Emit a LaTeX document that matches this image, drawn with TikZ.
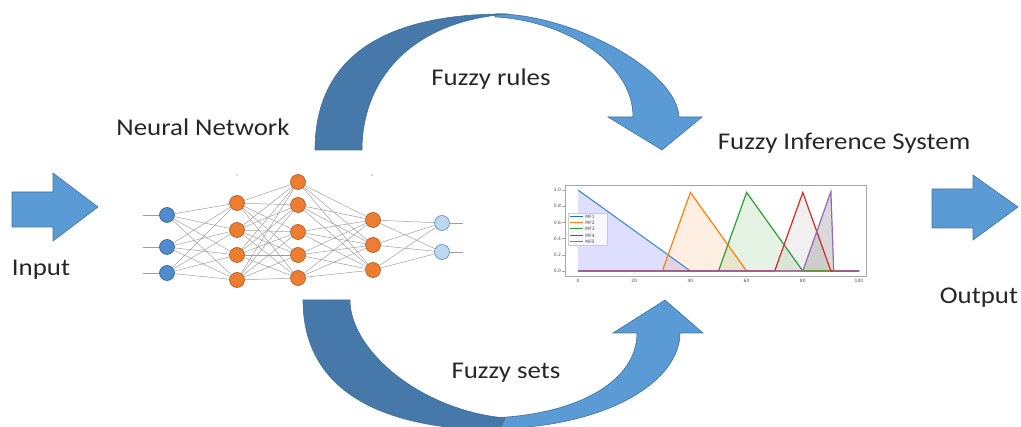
\documentclass[tikz,border=0pt]{standalone}
\usepackage{fontspec}
\setmainfont{Carlito}[FakeStretch=1.12]
\newfontfamily\plotfont{DejaVu Sans}
\usepackage{xcolor}

\definecolor{arcdark}{RGB}{70,120,170}
\definecolor{arclight}{RGB}{91,155,213}
\definecolor{arcedge}{RGB}{65,113,156}
\definecolor{nnin}{RGB}{79,140,205}
\definecolor{nnhid}{RGB}{237,125,49}
\definecolor{nnout}{RGB}{189,215,238}
\definecolor{mfa}{RGB}{31,119,180}
\definecolor{mfb}{RGB}{255,127,14}
\definecolor{mfc}{RGB}{44,160,44}
\definecolor{mfd}{RGB}{214,39,40}
\definecolor{mfe}{RGB}{148,103,189}

\begin{document}
\begin{tikzpicture}[x=1pt,y=-1pt]
	\tikzstyle{label}=[font=\fontsize{24}{28}\selectfont, text=black!85, inner sep=0pt]
	\tikzstyle{blockarrow}=[fill=arclight, draw=arcedge, line width=0.6pt, line join=miter]
	\tikzstyle{neuron}=[circle, minimum size=15pt, inner sep=0pt, line width=0.6pt]
	\tikzstyle{edge}=[draw=gray!75, line width=0.5pt]
	\tikzstyle{tick}=[font=\plotfont\fontsize{4.5}{5}\selectfont, text=black!70, inner sep=1pt]

	\useasboundingbox (0,0) rectangle (1021,427);

	% input and output arrows
	\draw[blockarrow] (12,192) -- (53,192) -- (53,173) -- (98,207) -- (53,241) -- (53,227) -- (12,227) -- cycle;
	\draw[blockarrow] (932,189) -- (973,189) -- (973,175) -- (1018,207) -- (973,240) -- (973,228) -- (932,228) -- cycle;
	\node[label] (input) at (41,270) {Input};
	\node[label] (output) at (979,298) {Output};

	% upper curved arrow
	\draw[blockarrow] (495,14) .. controls (570,13) and (677,70) .. (679,117) -- (702,117) -- (662,150) -- (608,117) -- (633,117)
		.. controls (633,60) and (560,20) .. (495,17) -- cycle;
	\draw[blockarrow, fill=arcdark] (315,150) .. controls (315,60) and (380,13) .. (508,14)
		.. controls (405,22) and (362,85) .. (362,150) -- cycle;
	\node[label] (rules) at (491,79) {Fuzzy rules};

	% lower curved arrow
	\draw[blockarrow] (680,333) .. controls (680,380) and (610,428) .. (490,429) -- (490,418)
		.. controls (580,415) and (637,380) .. (637,333) -- (613,333) -- (665,300) -- (703,333) -- cycle;
	\draw[blockarrow, fill=arcdark] (303,300) .. controls (303,390) and (380,430) .. (500,430) -- (505,418)
		.. controls (420,410) and (350,350) .. (350,300) -- cycle;
	\node[label] (sets) at (506,373) {Fuzzy sets};

	% neural network
	\node[label] (nn) at (203,127) {Neural Network};
	\foreach \y [count=\k] in {215,247,273}
		\node[neuron, fill=nnin, draw=nnin!70!black] (i\k) at (167,\y) {};
	\foreach \y [count=\k] in {203,230,255,280}
		\node[neuron, fill=nnhid, draw=nnhid!70!black] (a\k) at (237,\y) {};
	\foreach \y [count=\k] in {182,205,232,255,278}
		\node[neuron, fill=nnhid, draw=nnhid!70!black] (b\k) at (298,\y) {};
	\foreach \y [count=\k] in {220,245,270}
		\node[neuron, fill=nnhid, draw=nnhid!70!black] (c\k) at (373,\y) {};
	\foreach \y [count=\k] in {223,252}
		\node[neuron, fill=nnout, draw=nnin] (o\k) at (442,\y) {};

	\foreach \i in {1,2,3} \foreach \j in {1,...,4} \draw[edge] (i\i) -- (a\j);
	\foreach \i in {1,...,4} \foreach \j in {1,...,5} \draw[edge] (a\i) -- (b\j);
	\foreach \i in {1,...,5} \foreach \j in {1,2,3} \draw[edge] (b\i) -- (c\j);
	\foreach \i in {1,2,3} \foreach \j in {1,2} \draw[edge] (c\i) -- (o\j);

	\foreach \y [count=\k] in {215,247,273} {
		\coordinate (s\k) at (143,\y);
		\draw[edge] (s\k) -- (i\k);
	}
	\foreach \y [count=\k] in {223,252} {
		\coordinate (t\k) at (463,\y);
		\draw[edge] (o\k) -- (t\k);
	}
	\fill[gray!60] (237,175) circle (0.8) (372,175) circle (0.8);

	% fuzzy inference system
	\node[label] (fis) at (844,143) {Fuzzy Inference System};

	\begin{scope}[shift={(578,271)}, x=2.81pt, y=81pt]
		\fill[blue, fill opacity=0.13] (0,0) -- (0,1) -- (40,0) -- cycle;
		\fill[mfb, fill opacity=0.12] (30,0) -- (40,0.97) -- (60,0) -- cycle;
		\fill[mfc, fill opacity=0.12] (50,0) -- (60,0.97) -- (80,0) -- cycle;
		\fill[gray, fill opacity=0.12] (70,0) -- (80,0.97) -- (90,0) -- cycle;
		\fill[gray!80!black, fill opacity=0.25] (80,0) -- (90,0.98) -- (91,0) -- cycle;

		\draw[mfa!80, line width=1.2pt] (0,1) -- (40,0) -- (100,0);
		\draw[mfb, line width=1.2pt] (0,0) -- (30,0) -- (40,0.97) -- (60,0) -- (100,0);
		\draw[mfc, line width=1.2pt] (0,0) -- (50,0) -- (60,0.97) -- (80,0) -- (100,0);
		\draw[mfd, line width=1.2pt] (0,0) -- (70,0) -- (80,0.97) -- (90,0) -- (100,0);
		\draw[mfe, line width=1.2pt] (0,0) -- (80,0) -- (90,0.98) -- (91,0) -- (100,0);

		\draw[gray!70, line width=0.4pt] (-4.6,-0.06) rectangle (102.5,1.06);
		\foreach \v in {0.0,0.2,0.4,0.6,0.8,1.0} {
			\draw[gray!70, line width=0.3pt] (-4.6,\v) -- (-5.6,\v);
			\node[tick, anchor=east] (yt\v) at (-5.6,\v) {\v};
		}
		\foreach \v in {0,20,40,60,80,100} {
			\draw[gray!70, line width=0.3pt] (\v,-0.06) -- (\v,-0.08);
			\node[tick, anchor=north] (xt\v) at (\v,-0.08) {\v};
		}

		% legend
		\draw[gray!40, fill=white, fill opacity=0.8, line width=0.3pt] (-3.6,0.72) rectangle (10.3,0.32);
		\foreach \col/\mf/\y in {mfa/MF1/0.667,mfb/MF2/0.593,mfc/MF3/0.519,mfd/MF4/0.435,mfe/MF5/0.36} {
			\draw[draw=\col, line width=1pt] (-2.8,\y) -- (1.6,\y);
			\node[tick, anchor=west] (lg\mf) at (2.2,\y) {\mf};
		}
	\end{scope}
\end{tikzpicture}
\end{document}
